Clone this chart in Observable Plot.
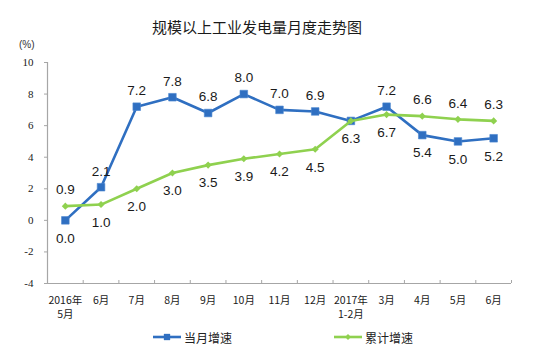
<!DOCTYPE html>
<html>
<head>
<meta charset="utf-8">
<script src="https://cdn.jsdelivr.net/npm/d3@7"></script>
<script src="https://cdn.jsdelivr.net/npm/@observablehq/plot@0.6"></script>
<style>
  html, body { margin: 0; padding: 0; background: #fff; }
  #wrap { position: relative; width: 554px; height: 353px; overflow: hidden; font-family: "Noto Sans CJK SC", sans-serif; }
  #title { position: absolute; left: 0; top: 0; width: 554px; height: 40px; }
  #title .t { position: absolute; left: 152px; top: 17px; font-size: 15px; line-height: 20px; color: #1a1a1a; white-space: nowrap; }
  #title .u { position: absolute; left: 19px; top: 39px; font-size: 10px; line-height: 12px; color: #333; font-family: "Liberation Sans", sans-serif; }
  #chart { position: absolute; left: 0; top: 40px; }
  #legend { position: absolute; left: 0; top: 327px; width: 554px; height: 20px; font-size: 12px; color: #222; }
  .item { position: absolute; top: 0; height: 20px; display: flex; align-items: center; white-space: nowrap; }
  .item svg { margin-right: 3px; }
</style>
</head>
<body>
<div id="wrap">
  <div id="title"><span class="t">规模以上工业发电量月度走势图</span><span class="u">(%)</span></div>
  <div id="chart"></div>
  <div id="legend"></div>
</div>
<script>
const categories = ["2016年\n5月", "6月", "7月", "8月", "9月", "10月", "11月", "12月", "2017年\n1-2月", "3月", "4月", "5月", "6月"];
const monthly = [0.0, 2.1, 7.2, 7.8, 6.8, 8.0, 7.0, 6.9, 6.3, 7.2, 5.4, 5.0, 5.2];
const cumulative = [0.9, 1.0, 2.0, 3.0, 3.5, 3.9, 4.2, 4.5, 6.3, 6.7, 6.6, 6.4, 6.3];
const seriesNames = ["当月增速", "累计增速"];
const yTicks = [-4, -2, 0, 2, 4, 6, 8, 10];

const blue = "#2f6fc1";
const green = "#8fd14f";

const rows = [];
categories.forEach((c, i) => {
  rows.push({i, series: seriesNames[0], value: monthly[i], other: cumulative[i]});
  rows.push({i, series: seriesNames[1], value: cumulative[i], other: monthly[i]});
});
const mRows = rows.filter(d => d.series === seriesNames[0]);
const cRows = rows.filter(d => d.series === seriesNames[1]);
// one label per position when both series coincide
const labelRows = rows.filter(d => !(d.series === seriesNames[0] && d.value === d.other));
const above = d => d.value > d.other;
const idx = categories.map((c, i) => i);
const bounds = d3.range(-0.5, categories.length, 1);

const chart = Plot.plot({
  width: 554,
  height: 280,
  marginLeft: 47,
  marginRight: 43,
  marginTop: 22,
  marginBottom: 37,
  x: {type: "linear", domain: [-0.5, categories.length - 0.5]},
  y: {domain: [-4, 10]},
  style: {background: "transparent"},
  marks: [
    Plot.axisY({ticks: yTicks, tickSize: 3, tickPadding: 11, stroke: "#a6a6a6", fill: "#1a1a1a",
      tickFormat: d => String(d),
      fontSize: 11, fontFamily: "Liberation Serif, serif", label: null}),
    Plot.axisX({ticks: bounds, tickSize: -3, tickFormat: () => "", stroke: "#a6a6a6", label: null}),
    Plot.axisX({ticks: idx, tickSize: 0, tickPadding: 10, tickFormat: i => categories[i],
      fontSize: 10.5, fontFamily: "Noto Sans CJK SC, sans-serif", fill: "#1a1a1a", lineHeight: 1.35,
      textAnchor: "middle", label: null}),
    Plot.ruleX([-0.5], {stroke: "#a6a6a6", strokeWidth: 1.2}),
    Plot.ruleY([-4], {stroke: "#a6a6a6", strokeWidth: 1.2}),
    Plot.line(mRows, {x: "i", y: "value", stroke: blue, strokeWidth: 2.6}),
    Plot.dot(mRows, {x: "i", y: "value", symbol: "square", r: 4.3, fill: blue, stroke: "#4a86d0", strokeWidth: 0.6}),
    Plot.line(cRows, {x: "i", y: "value", stroke: green, strokeWidth: 2.6}),
    Plot.dot(cRows, {x: "i", y: "value", symbol: "diamond2", r: 3.2, fill: green}),
    Plot.text(labelRows.filter(above), {x: "i", y: "value", text: d => d.value.toFixed(1), dy: -16,
      fontSize: 13.5, fontFamily: "Liberation Sans, Arial, sans-serif", fill: "#1a1a1a"}),
    Plot.text(labelRows.filter(d => !above(d)), {x: "i", y: "value", text: d => d.value.toFixed(1), dy: 18,
      fontSize: 13.5, fontFamily: "Liberation Sans, Arial, sans-serif", fill: "#1a1a1a"})
  ]
});
document.getElementById("chart").appendChild(chart);

// legend
const legend = d3.select("#legend");
const legendItems = [
  {name: seriesNames[0], color: blue, symbol: d3.symbolSquare, size: 40, left: 153},
  {name: seriesNames[1], color: green, symbol: d3.symbolDiamond2, size: 22, left: 334}
];
legendItems.forEach(it => {
  const div = legend.append("div").attr("class", "item").style("left", it.left + "px");
  const svg = div.append("svg").attr("width", 28).attr("height", 12);
  svg.append("line").attr("x1", 0).attr("x2", 28).attr("y1", 6).attr("y2", 6)
    .attr("stroke", it.color).attr("stroke-width", 2.6);
  svg.append("path").attr("d", d3.symbol(it.symbol, it.size)()).attr("transform", "translate(14,6)")
    .attr("fill", it.color);
  div.append("span").text(it.name);
});
</script>
</body>
</html>
